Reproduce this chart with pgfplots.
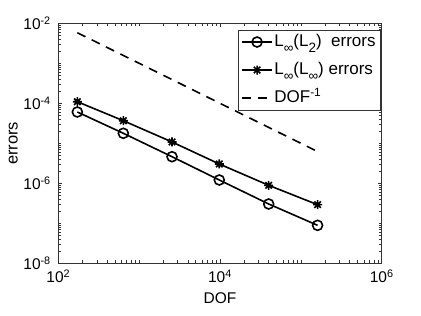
\documentclass[border=0pt]{standalone}
\usepackage{pgfplots}
\pgfplotsset{compat=1.18}
\usepackage{fontspec}
\setmainfont{Liberation Sans}
\newcommand{\lsub}[1]{\raisebox{-6bp}{\fontsize{13.5bp}{14bp}\selectfont #1}}
\pgfdeclareplotmark{plusx}{%
  \pgfpathmoveto{\pgfqpoint{-\pgfplotmarksize}{0pt}}\pgfpathlineto{\pgfqpoint{\pgfplotmarksize}{0pt}}%
  \pgfpathmoveto{\pgfqpoint{0pt}{-\pgfplotmarksize}}\pgfpathlineto{\pgfqpoint{0pt}{\pgfplotmarksize}}%
  \pgfpathmoveto{\pgfqpoint{-0.72\pgfplotmarksize}{-0.72\pgfplotmarksize}}\pgfpathlineto{\pgfqpoint{0.72\pgfplotmarksize}{0.72\pgfplotmarksize}}%
  \pgfpathmoveto{\pgfqpoint{-0.72\pgfplotmarksize}{0.72\pgfplotmarksize}}\pgfpathlineto{\pgfqpoint{0.72\pgfplotmarksize}{-0.72\pgfplotmarksize}}%
  \pgfusepathqstroke}
\begin{document}
\begin{tikzpicture}
\begin{axis}[
  at={(0,0)}, anchor=south west,
  scale only axis, width=323.4bp, height=240bp,
  xmode=log, ymode=log,
  xmin=1e2, xmax=1e6, ymin=1e-8, ymax=1e-2,
  xtick={1e2,1e4,1e6},
  xticklabels={10\textsuperscript{2},10\textsuperscript{4},10\textsuperscript{6}},
  ytick={1e-8,1e-6,1e-4,1e-2},
  yticklabels={10\textsuperscript{-8},10\textsuperscript{-6},10\textsuperscript{-4},10\textsuperscript{-2}},
  minor xtick={200,300,400,500,600,700,800,900,1000,2000,3000,4000,5000,6000,7000,8000,9000,
    20000,30000,40000,50000,60000,70000,80000,90000,100000,200000,300000,400000,500000,600000,700000,800000,900000},
  minor ytick={2e-8,3e-8,4e-8,5e-8,6e-8,7e-8,8e-8,9e-8,1e-7,2e-7,3e-7,4e-7,5e-7,6e-7,7e-7,8e-7,9e-7,
    2e-6,3e-6,4e-6,5e-6,6e-6,7e-6,8e-6,9e-6,1e-5,2e-5,3e-5,4e-5,5e-5,6e-5,7e-5,8e-5,9e-5,
    2e-4,3e-4,4e-4,5e-4,6e-4,7e-4,8e-4,9e-4,1e-3,2e-3,3e-3,4e-3,5e-3,6e-3,7e-3,8e-3,9e-3},
  tick align=inside,
  major tick length=4bp, minor tick length=3bp,
  every tick/.style={black!80, line width=0.5bp},
  axis line style={black!80, line width=0.6bp},
  tick label style={font=\fontsize{15.5bp}{18bp}\selectfont, black},
  xlabel={DOF}, ylabel={errors},
  every axis x label/.style={at={(axis description cs:0.5,-0.145)}, anchor=center, font=\fontsize{15.5bp}{18bp}\selectfont},
  every axis y label/.style={at={(axis description cs:-0.139,0.5)}, anchor=center, rotate=90, font=\fontsize{16.5bp}{18bp}\selectfont},
  xticklabel style={yshift=-3bp},
  yticklabel style={xshift=-4bp},
  legend style={at={(0.995,0.972)}, anchor=north east, draw=black!80, line width=0.6bp,
    font=\fontsize{17bp}{18bp}\selectfont, row sep=10bp, inner sep=3bp, outer sep=0pt,
    legend cell align=left, nodes={inner sep=1.5bp, text height=12bp, text depth=3bp}},
  legend image code/.code={\draw[mark repeat=2,mark phase=2,#1] plot coordinates {(0bp,0bp) (15bp,0bp) (30bp,0bp)};},
]
\addplot[black, line width=1.6bp, mark=o, mark size=5bp, mark options={solid, line width=1.6bp}]
  coordinates {(172,6.06e-5) (637,1.78e-5) (2550,4.62e-6) (9800,1.21e-6) (40000,3.04e-7) (161000,8.9e-8)};
\addlegendentry{L\lsub{∞}(L\lsub{2})\ \ errors}
\addplot[black, line width=1.6bp, mark=plusx, mark size=4.5bp, mark options={solid, line width=1.6bp}]
  coordinates {(172,1.096e-4) (637,3.67e-5) (2550,1.08e-5) (9800,3.04e-6) (40000,8.9e-7) (161000,2.92e-7)};
\addlegendentry{L\lsub{∞}(L\lsub{∞}) errors}
\addplot[black, line width=1.6bp, dash pattern=on 9bp off 7bp]
  coordinates {(172,5.814e-3) (637,1.570e-3) (2550,3.922e-4) (9800,1.020e-4) (40000,2.5e-5) (161000,6.21e-6)};
\addlegendentry{DOF\textsuperscript{-1}}
\end{axis}
\pgfresetboundingbox
\path[use as bounding box] (-58.3bp,-52.7bp) rectangle (362.7bp,263.3bp);
\end{tikzpicture}
\end{document}
